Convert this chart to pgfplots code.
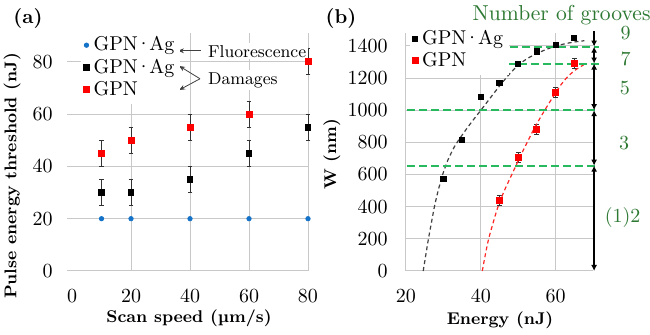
\documentclass[border=0pt]{standalone}
\usepackage{pgfplots}
\pgfplotsset{compat=1.18}
\usetikzlibrary{arrows.meta}
\definecolor{fblue}{RGB}{20,115,200}
\definecolor{gline}{RGB}{40,185,95}
\definecolor{gtext}{RGB}{45,120,50}
\definecolor{gridc}{RGB}{200,200,200}
\newcommand{\gag}{GPN\kern-1pt·\kern-1pt Ag}
\newcommand{\lab}{\fontsize{8.5}{10}\selectfont\bfseries}
\pgfplotsset{
  every axis/.append style={
    scale only axis, clip=false,
    grid=major, major grid style={gridc, line width=0.5pt},
    axis line style={draw=none}, major tick length=0pt,
    tick label style={font=\normalsize},
    /pgf/number format/1000 sep={},
    legend cell align=left,
    legend image code/.code={\draw[#1,mark repeat=2,mark phase=2] plot coordinates {(0cm,0cm)(0.12cm,0cm)(0.24cm,0cm)};},
  },
  ebar/.style={error bars/.cd, y dir=both, y explicit,
    error bar style={black!80, line width=0.4pt},
    error mark options={black!80, rotate=90, mark size=1.2pt, line width=0.4pt}},
}
\begin{document}
\begin{tikzpicture}[x=1pt,y=1pt]
\path[use as bounding box] (-33.5pt,-32pt) rectangle (291.5pt,135.5pt);
% ---------------- (a)
\begin{axis}[
  at={(0pt,0pt)}, anchor=south west,
  width=120.5pt, height=119pt,
  xmin=-1.7, xmax=80, ymin=0, ymax=91,
  xtick={20,40,60,80}, extra x ticks={0}, extra x tick style={grid=none},
  ytick={0,20,40,60,80},
  xticklabel style={yshift=-6pt},
  yticklabel style={xshift=-3.7pt},
  legend style={at={(0.058,1.012)}, anchor=north west, draw=none, fill=white,
    font=\normalsize, inner xsep=1pt, inner ysep=1pt, row sep=-1.5pt},
]
\addplot[only marks, mark=*, mark size=1.1pt, color=fblue] coordinates {(10,20)(20,20)(40,20)(60,20)(80,20)};
\addlegendentry{\gag}
\addplot[only marks, mark=square*, mark size=1.4pt, color=black, ebar] coordinates {
 (10,30) +- (0,5) (20,30) +- (0,5) (40,35) +- (0,5) (60,45) +- (0,5) (80,55) +- (0,5)};
\addlegendentry{\gag}
\addplot[only marks, mark=square*, mark size=1.55pt, color=red, ebar] coordinates {
 (10,45) +- (0,5) (20,50) +- (0,5) (40,55) +- (0,5) (60,60) +- (0,5) (80,80) +- (0,5)};
\addlegendentry{GPN}
\node[anchor=west, fill=white, inner sep=1pt, font=\fontsize{8.6}{10}\selectfont] at (axis cs:45.3,84.0) {Fluorescence};
\node[anchor=west, fill=white, inner sep=1pt, font=\fontsize{8.6}{10}\selectfont] at (axis cs:45.3,73.0) {Damages};
\draw[black!75, line width=0.4pt, -{Stealth[length=3pt,width=2.4pt]}] (axis cs:43.7,84.2) -- (axis cs:35.9,84.2);
\draw[black!75, line width=0.4pt, -{Stealth[length=3pt,width=2.4pt]}] (axis cs:43.4,73.5) -- (axis cs:36.3,78.4);
\draw[black!75, line width=0.4pt, -{Stealth[length=3pt,width=2.4pt]}] (axis cs:43.4,73.5) -- (axis cs:36.3,69.2);
\end{axis}
% ---------------- (b)
\begin{axis}[
  at={(169.5pt,0pt)}, anchor=south west,
  width=93.5pt, height=119pt,
  xmin=20, xmax=70, ymin=0, ymax=1480,
  xtick={20,40,60}, ytick={0,200,...,1400},
  xticklabel style={yshift=-6pt},
  yticklabel style={xshift=-5.7pt},
  legend style={at={(0.02,1.04)}, anchor=north west, draw=none, fill=white,
    font=\normalsize, inner xsep=1pt, inner ysep=1pt, row sep=-1.5pt},
]
\addplot[only marks, mark=square*, mark size=1.3pt, color=black] coordinates {
 (30,575)(35,815)(40,1082)(45,1170)(50,1290)(55,1365)(60,1405)(65,1450)};
\addlegendentry{\gag}
\addplot[only marks, mark=square*, mark size=1.5pt, color=red, ebar] coordinates {
 (45,440) +- (0,30) (50,705) +- (0,30) (55,880) +- (0,30) (60,1112) +- (0,30) (65,1290) +- (0,30)};
\addlegendentry{GPN}
\addplot[smooth, tension=0.4, dash pattern=on 2pt off 1.5pt, line width=0.6pt, color=black!75, forget plot] coordinates {
 (24.6,0)(25.3,100)(26,200)(26.8,300)(27.6,400)(28.6,500)(29.8,600)(31.2,690)(33,775)(35,845)(37.5,925)(40.2,1005)(42.5,1075)(45,1150)(47.5,1220)(50,1280)(52.5,1322)(55,1352)(57.5,1378)(60,1398)(62.5,1413)(65,1424)(67.7,1432)};
\addplot[smooth, tension=0.4, dash pattern=on 2pt off 1.5pt, line width=0.6pt, color=red!85, forget plot] coordinates {
 (40.4,0)(41.2,100)(42.1,200)(43.3,300)(44.6,400)(46.3,500)(48.3,600)(50.3,700)(52.4,800)(54.6,900)(57.1,1000)(59.9,1105)(61.5,1160)(63.3,1210)(65.3,1250)(67.5,1282)};
% green dashed lines
\draw[gline, dash pattern=on 4pt off 2pt, line width=1pt] (axis cs:44.5,1395) -- (axis cs:71.6,1395);
\draw[gline, dash pattern=on 4pt off 2pt, line width=1pt] (axis cs:43.7,1290) -- (axis cs:71.6,1290);
\draw[gline, dash pattern=on 4pt off 2pt, line width=1pt] (axis cs:20.3,1000) -- (axis cs:71.6,1000);
\draw[gline, dash pattern=on 4pt off 2pt, line width=1pt] (axis cs:20.3,655) -- (axis cs:71.6,655);
% arrows
\draw[line width=0.9pt, -{Latex[length=3pt,width=3pt]}] (axis cs:70.3,1492) -- (axis cs:70.3,1395);
\draw[line width=0.9pt, {Latex[length=3pt,width=3pt]}-{Latex[length=3pt,width=3pt]}] (axis cs:70.3,1395) -- (axis cs:70.3,1290);
\draw[line width=0.9pt, {Latex[length=3pt,width=3pt]}-{Latex[length=3pt,width=3pt]}] (axis cs:70.3,1290) -- (axis cs:70.3,1000);
\draw[line width=0.9pt, {Latex[length=3pt,width=3pt]}-{Latex[length=3pt,width=3pt]}] (axis cs:70.3,1000) -- (axis cs:70.3,655);
\draw[line width=0.9pt, {Latex[length=3pt,width=3pt]}-{Latex[length=3pt,width=3pt]}] (axis cs:70.3,655) -- (axis cs:70.3,0);
% green labels
\node[gtext, font=\normalsize] at (axis cs:78.7,1480) {9};
\node[gtext, font=\normalsize] at (axis cs:78.7,1318) {7};
\node[gtext, font=\normalsize] at (axis cs:78.5,1136) {5};
\node[gtext, font=\normalsize] at (axis cs:78.3,797) {3};
\node[gtext, font=\normalsize] at (axis cs:77.9,333) {(1)2};
\node[gtext, font=\fontsize{10.8}{13}\selectfont] at (axis cs:61.6,1592) {Number of grooves};
\end{axis}
% labels
\node[font=\bfseries] at (-19.5pt,126pt) {(a)};
\node[font=\bfseries] at (137pt,126pt) {(b)};
\node[font=\lab, rotate=90] at (-27.5pt,47.5pt) {Pulse energy threshold (nJ)};
\node[font=\lab, rotate=90] at (132.5pt,58.5pt) {W (nm)};
\node[font=\lab] at (61pt,-23.5pt) {Scan speed (µm/s)};
\node[font=\lab] at (216.5pt,-24.5pt) {Energy (nJ)};
\end{tikzpicture}
\end{document}
